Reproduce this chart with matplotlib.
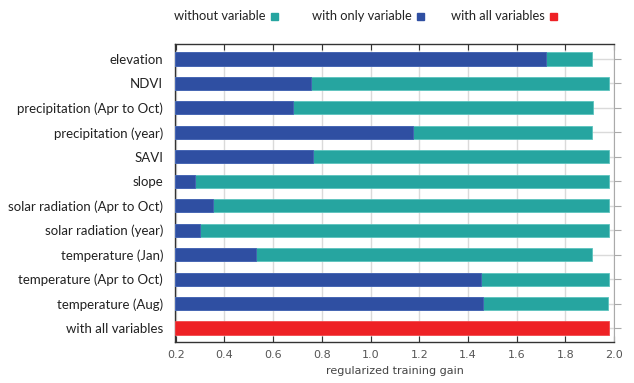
import matplotlib
matplotlib.use("Agg")
import matplotlib.pyplot as plt
import numpy as np

categories = ["elevation", "NDVI", "precipitation (Apr to Oct)", "precipitation (year)",
              "SAVI", "slope", "solar radiation (Apr to Oct)", "solar radiation (year)",
              "temperature (Jan)", "temperature (Apr to Oct)", "temperature (Aug)",
              "with all variables"]
without_variable = [1.910, 1.978, 1.913, 1.910, 1.978, 1.978, 1.978, 1.981, 1.909, 1.978, 1.974, None]
with_only_variable = [1.719, 0.754, 0.683, 1.174, 0.765, 0.278, 0.352, 0.299, 0.529, 1.452, 1.461, None]
with_all_variables = 1.981
xticks = [0.2, 0.4, 0.6, 0.8, 1.0, 1.2, 1.4, 1.6, 1.8, 2.0]

TEAL = "#26A5A0"
BLUE = "#2F4FA2"
RED = "#EE2125"
XMIN = 0.197

fig = plt.figure(figsize=(6.34, 3.83), dpi=100)
ax = fig.add_axes([175/634, 1-342/383, (614-175)/634, (342-44)/383])

y = np.arange(len(categories))
h = 0.54
for i in range(len(categories) - 1):
    ax.barh(y[i], without_variable[i] - XMIN, left=XMIN, height=h, color=TEAL,
            edgecolor="#5CC3BE", linewidth=0.6, zorder=3)
    ax.barh(y[i], with_only_variable[i] - XMIN, left=XMIN, height=h, color=BLUE,
            edgecolor="#4A62B5", linewidth=0.6, zorder=4)
ax.barh(y[-1], with_all_variables - XMIN, left=XMIN, height=h, color=RED,
        edgecolor="#F2484B", linewidth=0.6, zorder=3)

ax.set_xlim(XMIN, 2.0)
ax.set_ylim(len(categories) - 1 + 0.57, -0.61)
ax.set_xticks(xticks)
ax.set_xticklabels([f"{v:.1f}" for v in xticks])
ax.set_yticks(y)
ax.set_yticklabels(categories, fontfamily="Lato", fontsize=9.5, color="#222222")

ax.grid(True, axis="both", color="#DADADA", linewidth=1, zorder=0)
ax.set_axisbelow(True)

for s in ["left", "top", "bottom"]:
    ax.spines[s].set_color("#333333")
    ax.spines[s].set_linewidth(1)
ax.spines["right"].set_color("#AAAAAA")

ax.tick_params(axis="x", which="both", direction="in", top=True, bottom=True,
               length=4, color="#333333", labelsize=8, labelcolor="#555555", pad=6)
ax.tick_params(axis="y", which="both", left=False, right=True, direction="out",
               length=5, color="#AAAAAA", pad=3.6)
for lab in ax.get_xticklabels():
    lab.set_fontfamily("DejaVu Sans")

ax.set_xlabel("regularized training gain", fontsize=8, color="#444444",
              fontfamily="DejaVu Sans", labelpad=4)

# legend across the top
leg = [("without variable", TEAL, 266, 270.5),
       ("with only variable", BLUE, 412, 416.5),
       ("with all variables", RED, 545, 550)]
for text, col, xend, xsq in leg:
    fig.text(xend/634, 1-16/383, text, ha="right", va="center", fontfamily="Lato",
             fontsize=9.3, color="#222222")
    fig.patches.append(plt.Rectangle((xsq/634, 1-19.5/383), 7/634, 7/383,
                                     transform=fig.transFigure, color=col, figure=fig))

fig.savefig("out.png", dpi=100)
